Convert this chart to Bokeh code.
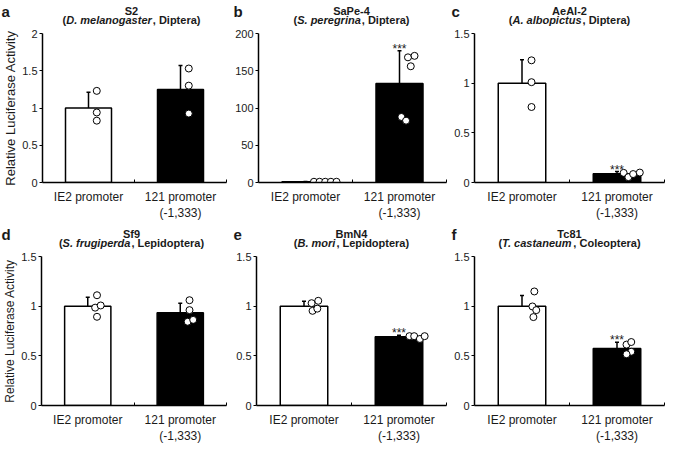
from bokeh.plotting import figure
from bokeh.layouts import row, column
from bokeh.models import Range1d, FixedTicker, Label, ColumnDataSource
from bokeh.core.properties import value
from bokeh.embed import file_html
from bokeh.resources import INLINE

# ---------------- data ----------------
letters = ["a", "b", "c", "d", "e", "f"]
cells = ["S2", "SaPe-4", "AeAl-2", "Sf9", "BmN4", "Tc81"]
species = ["D. melanogaster", "S. peregrina", "A. albopictus",
           "S. frugiperda", "B. mori", "T. castaneum"]
orders = ["Diptera", "Diptera", "Diptera", "Lepidoptera", "Lepidoptera", "Coleoptera"]
categories = ["IE2 promoter", "121 promoter\n(-1,333)"]
y_title = "Relative Luciferase Activity"
y_max = [2, 200, 1.5, 1.5, 1.5, 1.5]
y_ticks = [[0, 0.5, 1, 1.5, 2], [0, 50, 100, 150, 200], [0, 0.5, 1, 1.5],
           [0, 0.5, 1, 1.5], [0, 0.5, 1, 1.5], [0, 0.5, 1, 1.5]]

ie2_mean = [1.0, 1.0, 1.0, 1.0, 1.0, 1.0]
ie2_err = [0.21, 0.3, 0.236, 0.09, 0.05, 0.107]
p121_mean = [1.25, 133, 0.088, 0.934, 0.692, 0.575]
p121_err = [0.32, 44, 0.022, 0.096, 0.015, 0.061]
significance = ["", "***", "***", "", "***", "***"]

ie2_points = [[1.23, 0.94, 0.83], [1, 1, 1, 1, 1], [1.23, 1.01, 0.76],
              [1.11, 0.985, 1.007, 0.893], [1.03, 1.054, 0.953, 0.975],
              [1.148, 0.997, 0.96, 0.89]]
ie2_jitter = [[0.09, 0.09, 0.09], [0.09, 0.15, 0.21, 0.27, 0.33], [0.10, 0.10, 0.10],
              [0.10, 0.08, 0.14, 0.10], [0.08, 0.15, 0.09, 0.14],
              [0.13, 0.11, 0.15, 0.12]]
p121_points = [[1.53, 1.30, 0.925], [168, 170, 156, 88, 83], [0.097, 0.054, 0.085, 0.10],
               [1.06, 0.96, 0.843, 0.862], [0.698, 0.698, 0.670, 0.698],
               [0.613, 0.639, 0.541, 0.516]]
p121_jitter = [[0.09, 0.09, 0.09], [0.09, 0.16, 0.12, 0.02, 0.07], [0.07, 0.12, 0.17, 0.24],
               [0.10, 0.10, 0.08, 0.14], [0.11, 0.16, 0.22, 0.27],
               [0.10, 0.15, 0.15, 0.10]]

# ---------------- layout helpers ----------------
FONT = "Liberation Sans"
TXT = "#1a1a1a"
_bold_w = {" ": 278, "(": 333, ")": 333, ",": 278, ".": 278, "-": 333}
_bold_w.update(dict(zip("ABCDEFGHIJKLMNOPQRSTUVWXYZ",
                        [722, 722, 722, 722, 667, 611, 778, 722, 278, 556, 722, 611, 833,
                         722, 778, 667, 778, 722, 667, 611, 722, 667, 944, 667, 667, 611])))
_bold_w.update(dict(zip("abcdefghijklmnopqrstuvwxyz",
                        [556, 611, 556, 611, 556, 333, 611, 611, 278, 278, 556, 278, 889,
                         611, 611, 611, 611, 389, 556, 333, 611, 556, 778, 556, 556, 500])))


def text_w(s, size):
    return sum(_bold_w.get(c, 556) for c in s) * size / 1000.0


widths = [232, 218, 219]
lefts = [36, 24, 24]
FRAME_W = 190
TOTAL_W = sum(widths)
TITLE_H = 28
PLOT_H = 195
TOP = 5
BOT = 38
TSIZE = 11


def make_title_row(r):
    t = figure(width=TOTAL_W, height=TITLE_H, output_backend="svg",
               toolbar_location=None, title=None,
               x_range=Range1d(0, TOTAL_W), y_range=Range1d(0, TITLE_H),
               min_border=0, min_border_left=0, min_border_right=0,
               min_border_top=0, min_border_bottom=0,
               x_axis_type=None, y_axis_type=None)
    t.outline_line_color = None
    for col in range(3):
        i = 3 * r + col
        x_off = sum(widths[:col])
        cx = x_off + lefts[col] + FRAME_W / 2.0
        # panel letter (offsets measured down from the top of the strip)
        t.text(x=[x_off + 1], y=[TITLE_H], y_offset=11, text=[letters[i]],
               text_font=value(FONT), text_font_size="15px", text_font_style="bold",
               text_color=TXT, text_align="left", text_baseline="alphabetic")
        # first title line
        t.text(x=[cx], y=[TITLE_H], y_offset=10, text=[cells[i]], text_font=value(FONT),
               text_font_size=f"{TSIZE}px", text_font_style="bold", text_color=TXT,
               text_align="center", text_baseline="alphabetic")
        # second title line with italic species name
        pre, ital, post = "(", species[i], ", " + orders[i] + ")"
        wp, wi, wq = text_w(pre, TSIZE), text_w(ital, TSIZE) + 1, text_w(post, TSIZE)
        start = cx - (wp + wi + wq) / 2.0
        for txt, x0, style in [(pre, start, "bold"), (ital, start + wp, "bold italic"),
                               (post, start + wp + wi, "bold")]:
            t.text(x=[x0], y=[TITLE_H], y_offset=19.5, text=[txt], text_font=value(FONT),
                   text_font_size=f"{TSIZE}px", text_font_style=style, text_color=TXT,
                   text_align="left", text_baseline="alphabetic")
    return t


def make_panel(i):
    col = i % 3
    p = figure(width=widths[col], height=PLOT_H, output_backend="svg", toolbar_location=None,
               x_range=Range1d(0, 2), y_range=Range1d(0, y_max[i]),
               min_border_left=lefts[col], min_border_right=widths[col] - lefts[col] - FRAME_W,
               min_border_top=TOP, min_border_bottom=BOT)
    p.outline_line_color = None
    p.xgrid.grid_line_color = None
    p.ygrid.grid_line_color = None

    xa = p.xaxis[0]
    xa.ticker = FixedTicker(ticks=[0.5, 1.5], minor_ticks=[1, 2])
    xa.major_label_overrides = {0.5: categories[0], 1.5: categories[1]}
    xa.major_tick_in = 0
    xa.major_tick_out = 0
    xa.minor_tick_in = 3
    xa.minor_tick_out = 0
    xa.minor_tick_line_width = 1
    xa.axis_line_width = 1.5
    xa.axis_line_color = "black"
    xa.major_label_text_font = FONT
    xa.major_label_text_font_size = "12px"
    xa.major_label_text_color = TXT
    xa.major_label_standoff = 7

    ya = p.yaxis[0]
    ya.ticker = FixedTicker(ticks=y_ticks[i], minor_ticks=[])
    ya.major_label_overrides = {t: f"{t:g}" for t in y_ticks[i]}
    ya.major_tick_in = 0
    ya.major_tick_out = 3
    ya.major_tick_line_width = 1
    ya.axis_line_width = 1.5
    ya.axis_line_color = "black"
    ya.major_label_text_font = FONT
    ya.major_label_text_font_size = "11px"
    ya.major_label_text_color = TXT
    ya.major_label_standoff = 2
    if col == 0:
        ya.axis_label = y_title
        ya.axis_label_text_font = FONT
        ya.axis_label_text_font_style = "normal"
        ya.axis_label_text_font_size = "13px" if i == 0 else "12px"
        ya.axis_label_text_color = TXT
        ya.axis_label_standoff = 1

    xs = [0.5, 1.5]
    means = [ie2_mean[i], p121_mean[i]]
    tops = [ie2_mean[i] + ie2_err[i], p121_mean[i] + p121_err[i]]
    src = ColumnDataSource(dict(x=xs, top=means, etop=tops, fill=["white", "black"]))
    p.segment(x0="x", y0="top", x1="x", y1="etop", source=src, line_width=1.5, line_color="black")
    p.scatter(x="x", y="etop", source=src, marker="dash", size=4, line_width=1.5, line_color="black")
    p.vbar(x="x", top="top", width=0.5, source=src, fill_color="fill",
           line_color="black", line_width=1.5)

    px = [0.5 + d for d in ie2_jitter[i]] + [1.5 + d for d in p121_jitter[i]]
    py = ie2_points[i] + p121_points[i]
    p.scatter(x=px, y=py, size=7, fill_color="white", line_color="black", line_width=1)

    if significance[i]:
        p.add_layout(Label(x=1.5, y=tops[1], y_offset=2, text=significance[i],
                           text_align="center", text_baseline="alphabetic",
                           text_font=FONT, text_font_size="12px", text_color=TXT))
    return p


plots = [make_panel(i) for i in range(6)]
layout = column(make_title_row(0), row(*plots[:3]),
                make_title_row(1), row(*plots[3:]))

open("out.html", "w").write(file_html(layout, INLINE))
